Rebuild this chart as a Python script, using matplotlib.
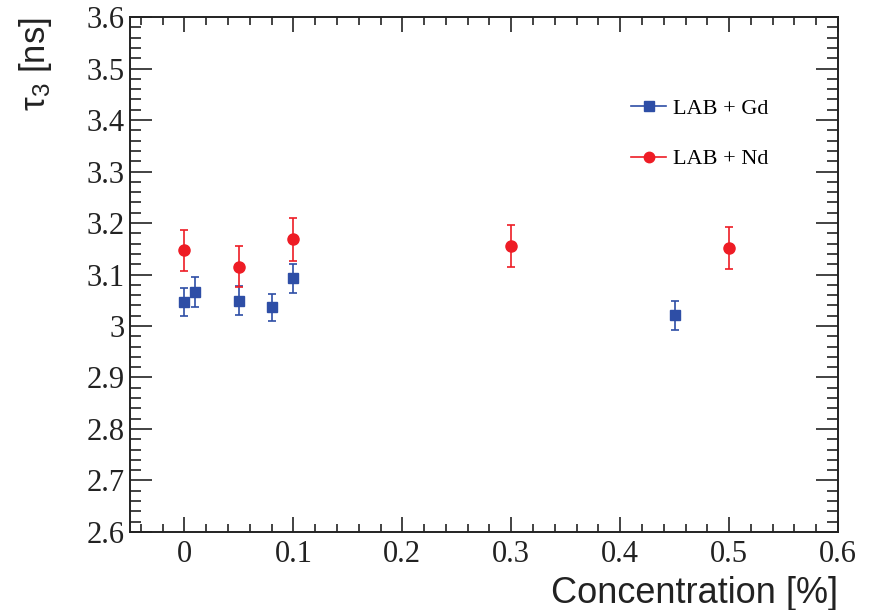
import matplotlib.pyplot as plt
from matplotlib.lines import Line2D
from matplotlib.ticker import MultipleLocator

# LAB + Gd
gd_conc = [0.0, 0.01, 0.05, 0.08, 0.10, 0.45]
gd_tau = [3.047, 3.066, 3.049, 3.036, 3.093, 3.021]
gd_err = [0.027, 0.029, 0.028, 0.027, 0.028, 0.028]

# LAB + Nd
nd_conc = [0.0, 0.05, 0.10, 0.30, 0.50]
nd_tau = [3.147, 3.115, 3.168, 3.156, 3.151]
nd_err = [0.040, 0.040, 0.042, 0.041, 0.041]

blue = '#2e4ea6'
red = '#ee1c25'

fig = plt.figure(figsize=(8.75, 6.1), dpi=100)
ax = fig.add_axes([0.1486, 0.1279, 0.8091, 0.8442])

ax.errorbar(gd_conc, gd_tau, yerr=gd_err, fmt='s', color=blue, ms=7.5,
            elinewidth=1.2, capsize=3, capthick=1.2)
ax.errorbar(nd_conc, nd_tau, yerr=nd_err, fmt='o', color=red, ms=8,
            elinewidth=1.2, capsize=3, capthick=1.2)

ax.set_xlim(-0.05, 0.6)
ax.set_ylim(2.6, 3.6)
ax.xaxis.set_major_locator(MultipleLocator(0.1))
ax.xaxis.set_minor_locator(MultipleLocator(0.02))
ax.yaxis.set_major_locator(MultipleLocator(0.1))
ax.yaxis.set_minor_locator(MultipleLocator(0.02))
ax.xaxis.set_major_formatter(plt.FuncFormatter(lambda v, p: '0' if abs(v) < 1e-9 else ('%.1f' % v)))
ax.yaxis.set_major_formatter(plt.FuncFormatter(lambda v, p: '3' if abs(v - 3) < 1e-9 else ('%.1f' % v)))

ax.tick_params(axis='both', which='both', direction='in', top=True, right=True,
               width=1.2, colors='#222222', labelcolor='#222222')
ax.tick_params(axis='y', which='major', length=16, pad=4)
ax.tick_params(axis='y', which='minor', length=8)
ax.tick_params(axis='x', which='major', length=11, pad=6)
ax.tick_params(axis='x', which='minor', length=5.5)
for lab in ax.get_xticklabels() + ax.get_yticklabels():
    lab.set_fontfamily('Liberation Serif')
    lab.set_fontsize(22)
for s in ax.spines.values():
    s.set_linewidth(1.4)
    s.set_color('#222222')

ax.set_xlabel('Concentration [%]', fontfamily='Liberation Sans', fontsize=26,
              color='#222222')
ax.xaxis.set_label_coords(1.0, -0.086)
ax.xaxis.label.set_horizontalalignment('right')
ax.xaxis.label.set_verticalalignment('top')
ax.set_ylabel(r'$\mathregular{\tau_3}$ [ns]', fontfamily='Liberation Sans', fontsize=25,
              color='#222222')
ax.yaxis.set_label_coords(-0.108, 1.0)
ax.yaxis.label.set_horizontalalignment('right')

handles = [Line2D([], [], color=blue, marker='s', ms=7, lw=1.2),
           Line2D([], [], color=red, marker='o', ms=7.5, lw=1.2)]
ax.legend(handles, ['LAB + Gd', 'LAB + Nd'], loc='upper left',
          bbox_to_anchor=(0.68, 0.881), frameon=False, handlelength=1.55,
          handletextpad=0.3, labelspacing=1.35,
          prop={'family': 'Liberation Serif', 'size': 16})

fig.savefig('out.png', dpi=100)
